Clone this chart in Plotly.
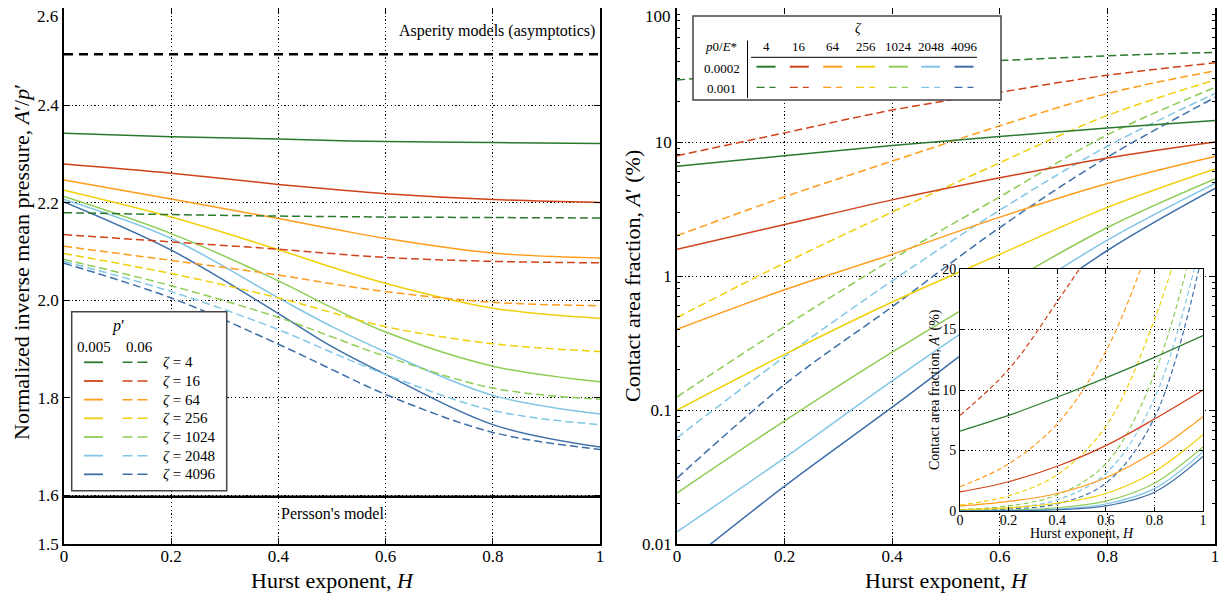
import plotly.graph_objects as go

# ---------------- data ----------------
ZETA = [4, 16, 64, 256, 1024, 2048, 4096]
COLORS = ["#2a7a2e", "#d0431a", "#ff9c1c", "#f0d00a", "#8fcc55", "#82c6e6", "#3e6fa8"]

# Left panel: normalized inverse mean pressure A'/p'
H_LEFT = [0, 0.2, 0.4, 0.5, 0.6, 0.8, 1.0]
PRESS_P005 = [
    [2.343, 2.336, 2.331, 2.328, 2.326, 2.324, 2.322],
    [2.280, 2.261, 2.238, 2.228, 2.219, 2.207, 2.201],
    [2.247, 2.208, 2.168, 2.147, 2.127, 2.097, 2.087],
    [2.226, 2.171, 2.104, 2.068, 2.035, 1.984, 1.963],
    [2.213, 2.137, 2.040, 1.985, 1.935, 1.865, 1.833],
    [2.207, 2.127, 2.005, 1.946, 1.894, 1.805, 1.767],
    [2.202, 2.103, 1.973, 1.905, 1.848, 1.745, 1.699],
]
PRESS_P06 = [
    [2.180, 2.176, 2.173, 2.172, 2.171, 2.170, 2.169],
    [2.135, 2.120, 2.105, 2.096, 2.088, 2.080, 2.077],
    [2.111, 2.082, 2.052, 2.034, 2.018, 1.996, 1.989],
    [2.096, 2.055, 2.005, 1.975, 1.946, 1.911, 1.895],
    [2.084, 2.030, 1.965, 1.925, 1.885, 1.820, 1.797],
    [2.080, 2.018, 1.940, 1.893, 1.848, 1.774, 1.745],
    [2.076, 2.005, 1.910, 1.858, 1.807, 1.729, 1.694],
]
ASPERITY = 2.505
PERSSON = 1.597

# Right panel: contact area fraction A' (%)
H_RIGHT = [0, 0.2, 0.4, 0.6, 0.8, 1.0]
AREA_P0002 = [
    [6.6, 7.9, 9.4, 11.0, 12.7, 14.5],
    [1.58, 2.42, 3.7, 5.4, 7.6, 10.0],
    [0.40, 0.79, 1.45, 2.75, 4.9, 7.8],
    [0.100, 0.26, 0.64, 1.45, 3.25, 6.3],
    [0.024, 0.083, 0.27, 0.82, 2.3, 5.3],
    [0.0123, 0.044, 0.165, 0.58, 1.85, 4.9],
    [0.0063, 0.027, 0.105, 0.42, 1.55, 4.5],
]
AREA_P001 = [
    [29, 33.5, 37.5, 40.5, 44, 46.7],
    [7.9, 11.7, 17.3, 23.5, 31.5, 39],
    [2.0, 3.9, 7.2, 13.2, 23, 34],
    [0.49, 1.25, 3.0, 7.0, 15.8, 29],
    [0.125, 0.42, 1.33, 3.9, 11.3, 25.5],
    [0.062, 0.25, 0.92, 3.1, 9.3, 23],
    [0.031, 0.155, 0.59, 2.3, 7.7, 21.5],
]

X_TICKS = [0, 0.2, 0.4, 0.6, 0.8, 1.0]
X_TICKTEXT = ["0", "0.2", "0.4", "0.6", "0.8", "1"]
Y1_TICKS = [1.5, 1.6, 1.8, 2.0, 2.2, 2.4, 2.6]
Y1_TICKTEXT = ["1.5", "1.6", "1.8", "2.0", "2.2", "2.4", "2.6"]
Y2_TICKS = [0.01, 0.1, 1, 10, 100]
Y2_TICKTEXT = ["0.01", "0.1", "1", "10", "100"]
Y3_TICKS = [0, 5, 10, 15, 20]

FONT = "Liberation Serif"
DASH = "8px,4px"
GRIDDASH = "1.2px,2.6px"

# ---------------- geometry helpers ----------------
# the page body has an 8px margin, so the figure is drawn 8px right / down
OFF = 8
W, HGT = 1231, 601
ML, MR, MT, MB = 56, 24, 0, 65
PW = W - ML - MR
PH = HGT - MT - MB


def P(px, py):
    """screen pixel -> paper coordinates"""
    return (px - OFF - ML) / PW, (HGT - MB - (py - OFF)) / PH


fig = go.Figure()

# left panel traces
for i in range(7):
    fig.add_trace(go.Scatter(x=H_LEFT, y=PRESS_P005[i], mode="lines", xaxis="x", yaxis="y",
                             line=dict(color=COLORS[i], width=1.5, shape="spline"),
                             showlegend=False, hoverinfo="skip"))
for i in range(7):
    fig.add_trace(go.Scatter(x=H_LEFT, y=PRESS_P06[i], mode="lines", xaxis="x", yaxis="y",
                             line=dict(color=COLORS[i], width=1.5, shape="spline", dash=DASH),
                             showlegend=False, hoverinfo="skip"))
fig.add_trace(go.Scatter(x=[0, 1], y=[ASPERITY, ASPERITY], mode="lines", xaxis="x", yaxis="y",
                         line=dict(color="black", width=2.5, dash="9px,6px"), showlegend=False))
fig.add_trace(go.Scatter(x=[0, 1], y=[PERSSON, PERSSON], mode="lines", xaxis="x", yaxis="y",
                         line=dict(color="black", width=2.5), showlegend=False))

# right panel traces (log) and inset (linear)
for ax, ay in (("x2", "y2"), ("x3", "y3")):
    for i in range(7):
        fig.add_trace(go.Scatter(x=H_RIGHT, y=AREA_P001[i], mode="lines", xaxis=ax, yaxis=ay,
                                 line=dict(color=COLORS[i], width=1.5 if ax == "x2" else 1.2,
                                           shape="spline", dash=DASH if ax == "x2" else "5px,3px"),
                                 showlegend=False, hoverinfo="skip"))
    for i in range(7):
        fig.add_trace(go.Scatter(x=H_RIGHT, y=AREA_P0002[i], mode="lines", xaxis=ax, yaxis=ay,
                                 line=dict(color=COLORS[i], width=1.5 if ax == "x2" else 1.2,
                                           shape="spline"),
                                 showlegend=False, hoverinfo="skip"))

base = dict(showline=True, linecolor="black", linewidth=1.5, mirror="ticks", ticks="inside",
            ticklen=6, tickcolor="black", showgrid=True, gridcolor="black", griddash=GRIDDASH,
            gridwidth=1, zeroline=False, automargin=False, ticklabeloverflow="allow",
            tickfont=dict(family=FONT, size=17, color="black"))
inset = dict(base, linewidth=1, ticklen=4, tickfont=dict(family=FONT, size=14, color="black"))

xl, _ = P(600, 0)
xr0, _ = P(677, 0)
ix0, iy0 = P(960, 511)
ix1, iy1 = P(1203, 269)

# the top-most tick labels would be cut by the page edge; they are drawn as annotations below
y1_text = Y1_TICKTEXT[:-1] + [""]
y2_text = Y2_TICKTEXT[:-1] + [""]

fig.update_layout(
    template="none",
    width=W, height=HGT, margin=dict(l=ML, r=MR, t=MT, b=MB, pad=0),
    paper_bgcolor="white", plot_bgcolor="white", showlegend=False,
    font=dict(family=FONT, color="black"),
    xaxis=dict(base, domain=[0, xl], range=[0, 1], tickvals=X_TICKS, ticktext=X_TICKTEXT, anchor="y",
               ticklabelstandoff=-4),
    yaxis=dict(base, domain=[0, 1], range=[1.5, 2.6], tickvals=Y1_TICKS, ticktext=y1_text, anchor="x"),
    xaxis2=dict(base, domain=[xr0, 1], range=[0, 1], tickvals=X_TICKS, ticktext=X_TICKTEXT, anchor="y2",
                ticklabelstandoff=-4),
    yaxis2=dict(base, domain=[0, 1], type="log", range=[-2, 2], tickvals=Y2_TICKS, ticktext=y2_text,
                anchor="x2",
                minor=dict(ticks="inside", ticklen=3, tickcolor="black", showgrid=False,
                           tickvals=[m * 10 ** e for e in (-2, -1, 0, 1) for m in range(2, 10)])),
    xaxis3=dict(inset, domain=[ix0, ix1], range=[0, 1], tickvals=X_TICKS, ticktext=X_TICKTEXT, anchor="y3",
                ticklabelstandoff=-4),
    yaxis3=dict(inset, domain=[iy0, iy1], range=[0, 20], tickvals=Y3_TICKS, anchor="x3"),
)

shapes = []
annots = []


def text_at(px, py, txt, size, angle=0, xanchor="center"):
    x, y = P(px, py)
    annots.append(dict(x=x, y=y, xref="paper", yref="paper", text=txt, showarrow=False,
                       textangle=angle, xanchor=xanchor, yanchor="middle",
                       font=dict(size=size, family=FONT, color="black")))


# top tick labels (kept inside the visible page)
text_at(60, 16, Y1_TICKTEXT[-1], 17, xanchor="right")
text_at(673, 16, Y2_TICKTEXT[-1], 17, xanchor="right")

# axis titles
text_at(332, 580, "Hurst exponent, <i>H</i>", 22)
text_at(946, 580, "Hurst exponent, <i>H</i>", 22)
text_at(21, 262, "Normalized inverse mean pressure, <i>A</i>′/<i>p</i>′", 22, -90)
text_at(632, 276, "Contact area fraction, <i>A</i>′ (%)", 22, -90)
text_at(1081.5, 533, "Hurst exponent, <i>H</i>", 14)
text_at(935, 390, "Contact area fraction, <i>A</i>′ (%)", 14, -90)

# annotations in left panel
annots.append(dict(x=0.995, y=2.552, xref="x", yref="y", text="Asperity models (asymptotics)",
                   showarrow=False, xanchor="right", yanchor="middle", font=dict(size=16)))
annots.append(dict(x=0.5, y=1.563, xref="x", yref="y", text="Persson's model",
                   showarrow=False, xanchor="center", yanchor="middle", font=dict(size=16)))

# left legend box
x0, y0 = P(71.7, 490.7)
x1, y1 = P(226.7, 311.7)
shapes.append(dict(type="rect", xref="paper", yref="paper", x0=x0, y0=y0, x1=x1, y1=y1,
                   line=dict(color="#444", width=1.5), fillcolor="white", layer="above"))
text_at(118, 326, "<i>p</i>′", 16)
text_at(93.5, 347, "0.005", 15)
text_at(139.5, 347, "0.06", 15)
for i, z in enumerate(ZETA):
    ry = 362.3 + i * 18.67
    a0, b0 = P(84, ry)
    a1, _ = P(103, ry)
    shapes.append(dict(type="line", xref="paper", yref="paper", x0=a0, y0=b0, x1=a1, y1=b0,
                       line=dict(color=COLORS[i], width=1.8), layer="above"))
    a0, _ = P(122.5, ry)
    a1, _ = P(147.5, ry)
    shapes.append(dict(type="line", xref="paper", yref="paper", x0=a0, y0=b0, x1=a1, y1=b0,
                       line=dict(color=COLORS[i], width=1.5, dash="10px,5px"), layer="above"))
    text_at(161, ry, f"<i>ζ</i> = {z}", 15, xanchor="left")

# right legend (table)
x0, y0 = P(693, 100)
x1, y1 = P(1001, 16)
shapes.append(dict(type="rect", xref="paper", yref="paper", x0=x0, y0=y0, x1=x1, y1=y1,
                   line=dict(color="#444", width=1.5), fillcolor="white", layer="above"))
a, b0 = P(747.5, 40.5)
_, b1 = P(747.5, 98)
shapes.append(dict(type="line", xref="paper", yref="paper", x0=a, y0=b0, x1=a, y1=b1,
                   line=dict(color="black", width=1), layer="above"))
a0, b = P(751, 57.3)
a1, _ = P(977, 57.3)
shapes.append(dict(type="line", xref="paper", yref="paper", x0=a0, y0=b, x1=a1, y1=b,
                   line=dict(color="black", width=1), layer="above"))
text_at(858, 28, "<i>ζ</i>", 14)
text_at(721, 46, "<i>p</i>0/<i>E</i>*", 13)
text_at(721.5, 68.3, "0.0002", 13)
text_at(721.5, 88, "0.001", 13)
COLX = [766, 799.3, 832.7, 865.7, 898.3, 930.7, 964]
for i, z in enumerate(ZETA):
    cx = COLX[i]
    text_at(cx, 46, str(z), 13)
    a0, b = P(cx - 9.5, 66.7)
    a1, _ = P(cx + 9.5, 66.7)
    shapes.append(dict(type="line", xref="paper", yref="paper", x0=a0, y0=b, x1=a1, y1=b,
                       line=dict(color=COLORS[i], width=2), layer="above"))
    a0, b = P(cx - 9.5, 87.3)
    a1, _ = P(cx + 9.5, 87.3)
    shapes.append(dict(type="line", xref="paper", yref="paper", x0=a0, y0=b, x1=a1, y1=b,
                       line=dict(color=COLORS[i], width=1.3, dash="8px,5px"), layer="above"))

fig.update_layout(shapes=shapes, annotations=annots)
fig.write_html("out.html")
